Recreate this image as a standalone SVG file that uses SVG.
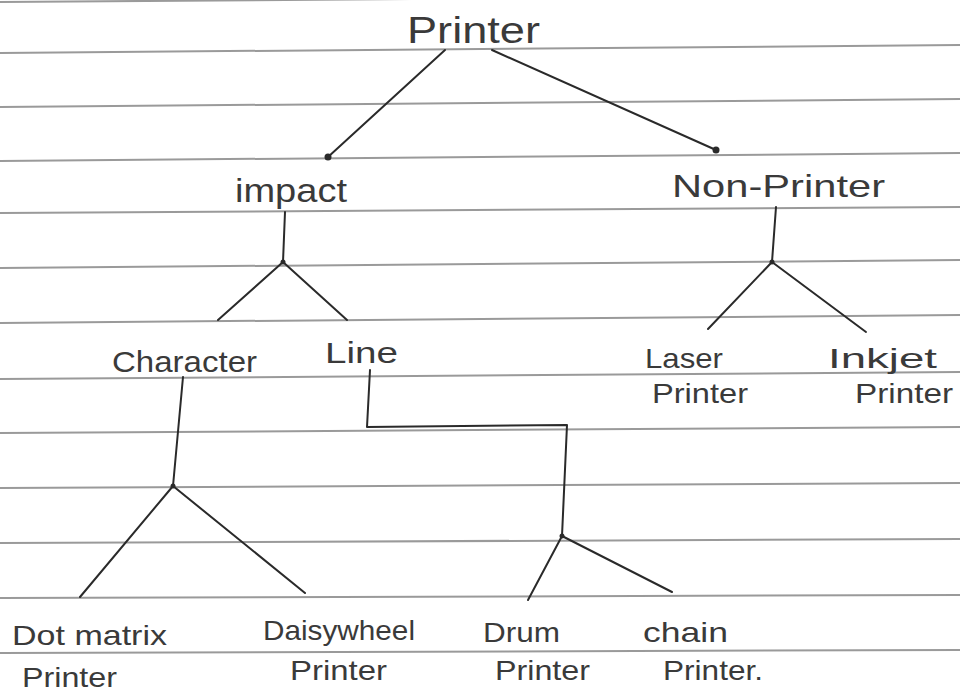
<svg xmlns="http://www.w3.org/2000/svg" width="960" height="695" viewBox="0 0 960 695">
<style>
.rule{stroke:#9a9a9a;stroke-width:2;fill:none}
.t{font-family:"Liberation Sans","DejaVu Sans",sans-serif;fill:#3a3a3a}
.c{stroke:#2a2a2a;stroke-width:2;fill:none;stroke-linecap:round;stroke-linejoin:round}
.d{fill:#2a2a2a}
</style>
<rect width="960" height="695" fill="#ffffff"/>
<g id="paper-rules">
<line class="rule" x1="0" y1="2" x2="960" y2="-5"/>
<line class="rule" x1="0" y1="53" x2="960" y2="45"/>
<line class="rule" x1="0" y1="107" x2="960" y2="99"/>
<line class="rule" x1="0" y1="161" x2="960" y2="153"/>
<line class="rule" x1="0" y1="213" x2="960" y2="207"/>
<line class="rule" x1="0" y1="268" x2="960" y2="260"/>
<line class="rule" x1="0" y1="323" x2="960" y2="315"/>
<line class="rule" x1="0" y1="379" x2="960" y2="372"/>
<line class="rule" x1="0" y1="433" x2="960" y2="427"/>
<line class="rule" x1="0" y1="488" x2="960" y2="483"/>
<line class="rule" x1="0" y1="543" x2="960" y2="539"/>
<line class="rule" x1="0" y1="598" x2="960" y2="595"/>
<line class="rule" x1="0" y1="653" x2="960" y2="650"/>
</g>
<g id="connectors">
<line class="c" x1="445" y1="50" x2="328" y2="157"/>
<circle class="d" cx="328" cy="157" r="3.5"/>
<line class="c" x1="492" y1="50" x2="716" y2="150"/>
<circle class="d" cx="716" cy="150" r="3.5"/>
<polyline class="c" points="285,212 283,262"/>
<line class="c" x1="283" y1="262" x2="218" y2="320"/>
<line class="c" x1="283" y1="262" x2="347" y2="320" stroke-width="1.4"/>
<circle class="d" cx="283" cy="262" r="2.5"/>
<polyline class="c" points="776,207 772,262"/>
<line class="c" x1="772" y1="262" x2="708" y2="329"/>
<line class="c" x1="772" y1="262" x2="866" y2="332"/>
<circle class="d" cx="772" cy="262" r="2.5"/>
<polyline class="c" points="183,377 173,486"/>
<line class="c" x1="173" y1="486" x2="80" y2="597"/>
<line class="c" x1="173" y1="486" x2="305" y2="593"/>
<circle class="d" cx="173" cy="486" r="2.5"/>
<polyline class="c" points="370,370 367,427 567,425 562,536"/>
<line class="c" x1="562" y1="536" x2="528" y2="600"/>
<line class="c" x1="562" y1="536" x2="672" y2="592"/>
<circle class="d" cx="562" cy="536" r="2.5"/>
</g>
<g id="node-printer"><text class="t" x="407" y="43" font-size="36" textLength="133" lengthAdjust="spacingAndGlyphs">Printer</text></g>
<g id="node-impact"><text class="t" x="235" y="202" font-size="34" textLength="112" lengthAdjust="spacingAndGlyphs">impact</text></g>
<g id="node-non-printer"><text class="t" x="672" y="197" font-size="32" textLength="213" lengthAdjust="spacingAndGlyphs">Non-Printer</text></g>
<g id="node-character"><text class="t" x="112" y="372" font-size="30" textLength="145" lengthAdjust="spacingAndGlyphs">Character</text></g>
<g id="node-line"><text class="t" x="325" y="363" font-size="30" textLength="73" lengthAdjust="spacingAndGlyphs">Line</text></g>
<g id="node-laser">
<text class="t" x="645" y="368" font-size="28" textLength="78" lengthAdjust="spacingAndGlyphs">Laser</text>
<text class="t" x="652" y="403" font-size="28" textLength="96" lengthAdjust="spacingAndGlyphs">Printer</text>
</g>
<g id="node-inkjet">
<text class="t" x="828" y="368" font-size="28" textLength="109" lengthAdjust="spacingAndGlyphs">Inkjet</text>
<text class="t" x="855" y="403" font-size="28" textLength="98" lengthAdjust="spacingAndGlyphs">Printer</text>
</g>
<g id="node-dot-matrix">
<text class="t" x="12" y="645" font-size="28" textLength="155" lengthAdjust="spacingAndGlyphs">Dot matrix</text>
<text class="t" x="22" y="687" font-size="28" textLength="95" lengthAdjust="spacingAndGlyphs">Printer</text>
</g>
<g id="node-daisywheel">
<text class="t" x="263" y="640" font-size="28" textLength="152" lengthAdjust="spacingAndGlyphs">Daisywheel</text>
<text class="t" x="290" y="680" font-size="28" textLength="97" lengthAdjust="spacingAndGlyphs">Printer</text>
</g>
<g id="node-drum">
<text class="t" x="483" y="642" font-size="28" textLength="77" lengthAdjust="spacingAndGlyphs">Drum</text>
<text class="t" x="495" y="680" font-size="28" textLength="95" lengthAdjust="spacingAndGlyphs">Printer</text>
</g>
<g id="node-chain">
<text class="t" x="643" y="642" font-size="28" textLength="85" lengthAdjust="spacingAndGlyphs">chain</text>
<text class="t" x="663" y="680" font-size="28" textLength="100" lengthAdjust="spacingAndGlyphs">Printer.</text>
</g>
</svg>
